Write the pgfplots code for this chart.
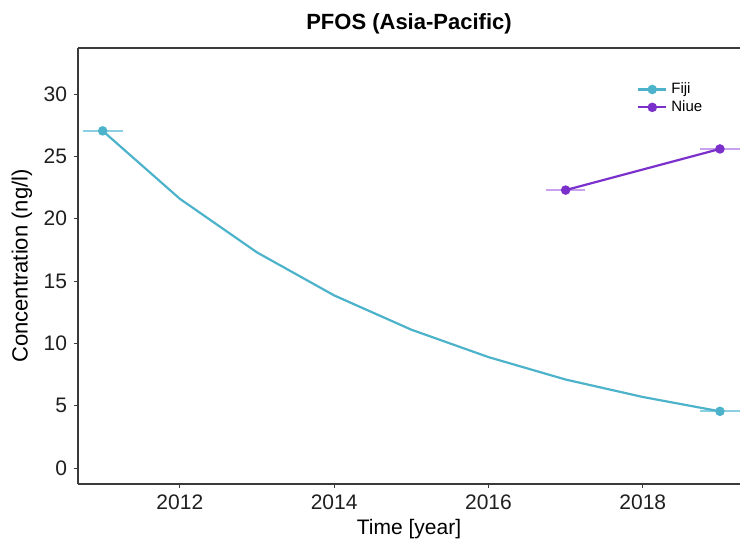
\documentclass[border=0pt]{standalone}
\usepackage{pgfplots}
\pgfplotsset{compat=1.18}
\usepackage{fontspec}
\setmainfont{Liberation Sans}
\definecolor{fiji}{HTML}{4DB3CB}
\definecolor{fijilt}{HTML}{8ACFE2}
\definecolor{niue}{HTML}{7B2FCB}
\definecolor{niuelt}{HTML}{C8A2EC}
\definecolor{axgray}{HTML}{3A3A3A}
\begin{document}
\begin{tikzpicture}
\path[use as bounding box] (0,0) rectangle (370pt,272.5pt);
\begin{axis}[name=ax, at={(39pt,30.5pt)}, anchor=south west, scale only axis,
  width=331pt, height=218pt,
  xmin=2010.68, xmax=2019.26, ymin=-1.28, ymax=33.7,
  axis lines=left, axis line style={-, draw=axgray, line width=0.75pt},
  xtick={2012,2014,2016,2018}, ytick={0,5,...,30},
  tick align=outside, major tick length=2pt, tick style={axgray, line width=0.5pt},
  xticklabel style={/pgf/number format/1000 sep={}},
  /pgf/number format/assume math mode=true,
  ticklabel style={font=\fontsize{10.5}{12}\selectfont, text=black!88},
  legend style={at={(0.835,0.94)}, anchor=north west, draw=none, fill=none,
    font=\fontsize{7.5}{8.8}\selectfont, row sep=-2pt},
  legend cell align=left,
  legend image code/.code={\draw[#1] (0pt,0pt) -- (14pt,0pt);
     \fill[#1] (7pt,0pt) circle (1.8pt);},
]
% horizontal error bars
\addplot[fijilt, line width=1pt, forget plot] coordinates {(2010.74,27.05) (2011.26,27.05)};
\addplot[fijilt, line width=1pt, forget plot] coordinates {(2018.74,4.55) (2019.26,4.55)};
\addplot[niuelt, line width=1pt, forget plot] coordinates {(2016.75,22.3) (2017.25,22.3)};
\addplot[niuelt, line width=1pt, forget plot] coordinates {(2018.74,25.6) (2019.26,25.6)};
% Fiji
\addplot[fiji, line width=1.1pt, mark=*, mark size=1.8pt, mark indices={1,9},
  mark options={fill=fiji, draw=fiji}, forget plot] coordinates {
 (2011,27.05) (2012,21.6) (2013,17.3) (2014,13.85) (2015,11.1)
 (2016,8.9) (2017,7.1) (2018,5.7) (2019,4.55)};
% Niue
\addplot[niue, line width=1.1pt, mark=*, mark size=1.8pt,
  mark options={fill=niue, draw=niue}, forget plot] coordinates {
 (2017,22.3) (2019,25.6)};
\addlegendimage{fiji, line width=1.1pt}
\addlegendentry{Fiji}
\addlegendimage{niue, line width=1.1pt}
\addlegendentry{Niue}
\end{axis}
\draw[axgray, line width=0.75pt] (ax.north west) -- (ax.north east);
\node[font=\bfseries\fontsize{11}{13}\selectfont] at (204.5pt,260.5pt) {PFOS (Asia-Pacific)};
\node[font=\fontsize{10.5}{12}\selectfont] at (204.5pt,8pt) {Time [year]};
\node[font=\fontsize{11}{13}\selectfont, rotate=90] at (11pt,139.5pt) {Concentration (ng/l)};
\end{tikzpicture}
\end{document}
